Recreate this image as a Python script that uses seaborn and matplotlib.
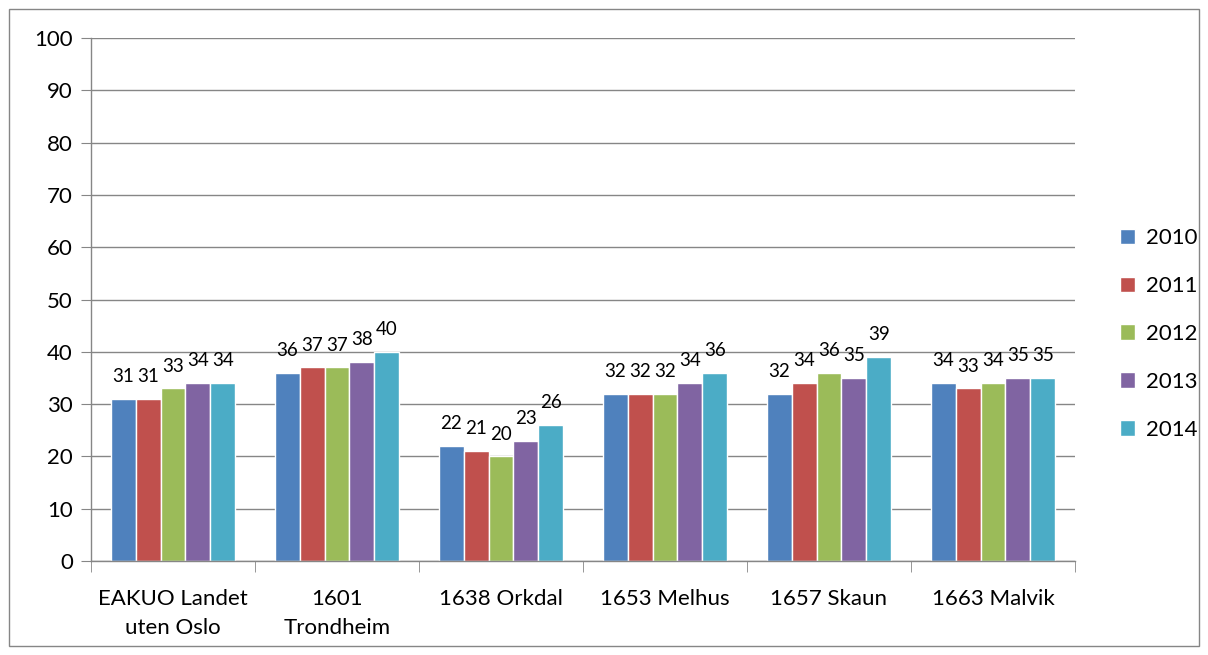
import pandas as pd
import seaborn as sns
import matplotlib.pyplot as plt
from matplotlib.patches import Rectangle

categories = ["EAKUO Landet\nuten Oslo", "1601\nTrondheim", "1638 Orkdal",
              "1653 Melhus", "1657 Skaun", "1663 Malvik"]
years = ["2010", "2011", "2012", "2013", "2014"]
v2010 = [31, 36, 22, 32, 32, 34]
v2011 = [31, 37, 21, 32, 34, 33]
v2012 = [33, 37, 20, 32, 36, 34]
v2013 = [34, 38, 23, 34, 35, 35]
v2014 = [34, 40, 26, 36, 39, 35]
colors = ["#4F81BD", "#C0504D", "#9BBB59", "#8064A2", "#4BACC6"]

rows = []
for year, vals in zip(years, [v2010, v2011, v2012, v2013, v2014]):
    for c, v in zip(categories, vals):
        rows.append({"Kommune": c, "År": year, "Verdi": v})
df = pd.DataFrame(rows)

sns.set_style("white")
plt.rcParams["font.family"] = ["Lato", "DejaVu Sans"]
plt.rcParams["text.color"] = "black"

fig = plt.figure(figsize=(12.08, 6.55), dpi=100)
ax = fig.add_axes([91 / 1208, 1 - 561 / 655, (1075 - 91) / 1208, (561 - 38) / 655])

sns.barplot(data=df, x="Kommune", y="Verdi", hue="År", palette=colors,
            width=0.76, saturation=1, ax=ax, errorbar=None)

for cont in ax.containers:
    ax.bar_label(cont, padding=10, fontsize=13.5, color="black")

ax.set_ylim(0, 100)
ax.set_xlim(-0.5, 5.5)
ax.set_yticks(range(0, 101, 10))
ax.yaxis.grid(True, color="#868686", linewidth=1)
ax.set_axisbelow(True)
ax.set_xlabel("")
ax.set_ylabel("")
for s in ["top", "right"]:
    ax.spines[s].set_visible(False)
for s in ["left", "bottom"]:
    ax.spines[s].set_color("#868686")
    ax.spines[s].set_linewidth(1)
ax.tick_params(axis="y", length=7, color="#868686", labelsize=16, pad=6, left=True,
               labelcolor="black")
ax.tick_params(axis="x", which="major", length=0, labelsize=16, pad=20, labelcolor="black")
for lbl in ax.get_xticklabels():
    lbl.set_linespacing(1.6)
ax.set_xticks([i - 0.5 for i in range(7)], minor=True)
ax.tick_params(axis="x", which="minor", length=8, color="#868686", bottom=True)

leg = ax.legend(loc="center left", frameon=False, fontsize=16, labelspacing=1.25,
                handlelength=0.7, handleheight=0.7, handletextpad=0.5)
leg.set_bbox_to_anchor((1.025, 1 - (334 - 38) / 523))

fig.patches.append(Rectangle((9 / 1208, 9 / 655), 1 - 18 / 1208, 1 - 18 / 655,
                             transform=fig.transFigure, fill=False,
                             edgecolor="#868686", linewidth=1))

plt.savefig("out.png", dpi=100)
